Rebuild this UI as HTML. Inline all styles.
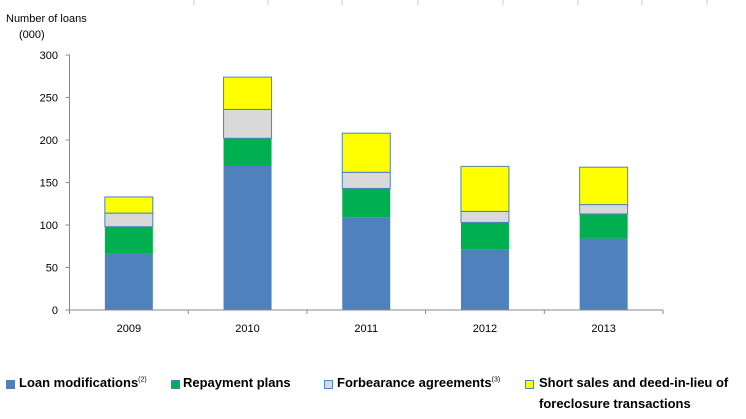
<!DOCTYPE html>
<html><head><meta charset="utf-8"><style>
body{margin:0;background:#fff;width:746px;height:419px;overflow:hidden;font-family:"Liberation Sans",sans-serif}
svg{position:absolute;left:0;top:0}
.lg{position:absolute;font-size:13px;font-weight:bold;color:#000;white-space:nowrap}
.sw{position:absolute;width:9px;height:9px;border:1px solid #4f81bd;box-sizing:border-box}
sup{font-size:7px;font-weight:normal}
</style></head><body>
<svg id="chart" width="746" height="419" font-family="Liberation Sans, sans-serif"></svg>
<div class="sw" style="left:6px;top:380px;background:#4f81bd"></div>
<div class="lg" style="left:19px;top:375px">Loan modifications<sup>(2)</sup></div>
<div class="sw" style="left:171px;top:380px;background:#00b050"></div>
<div class="lg" style="left:183px;top:375px">Repayment plans</div>
<div class="sw" style="left:324px;top:380px;background:#d9d9d9"></div>
<div class="lg" style="left:337px;top:375px">Forbearance agreements<sup>(3)</sup></div>
<div class="sw" style="left:525px;top:380px;background:#ffff00"></div>
<div class="lg" style="left:539px;top:372px;line-height:21px">Short sales and deed-in-lieu of<br>foreclosure transactions</div>
<script>
const categories=["2009","2010","2011","2012","2013"];
const loanMods=[66,170,109,71,84];
const repayment=[32,32,34,32,29];
const forbearance=[16,34,19,13,11];
const shortSales=[19,38,46,53,44];
const yTicks=[0,50,100,150,200,250,300];
const series=[["loan-modifications",loanMods,"#4f81bd"],["repayment-plans",repayment,"#00b050"],["forbearance-agreements",forbearance,"#d9d9d9"],["short-sales",shortSales,"#ffff00"]];
const svg=document.getElementById('chart');const NS="http://www.w3.org/2000/svg";
const x0=69.5,x1=663,yB=310,yT=55,ymax=300;
const y=v=>yB-(v/ymax)*(yB-yT);
const band=(x1-x0)/categories.length;
function mk(t,a){const e=document.createElementNS(NS,t);for(const k in a)e.setAttribute(k,a[k]);svg.appendChild(e);return e;}
[194,268,342,418,503,578,642,707].forEach(xx=>{const l=mk('line',{x1:xx,y1:0,x2:xx,y2:5,stroke:'#ccc'});

});
let t=mk('text',{x:6,y:22,'font-size':11});t.textContent='Number of loans';


t=mk('text',{x:19,y:38,'font-size':11});t.textContent='(000)';


yTicks.forEach(v=>{const l=mk('line',{x1:x0-4,y1:y(v),x2:x0,y2:y(v),stroke:'#888'});


const tx=mk('text',{x:58,y:y(v)+4,'font-size':11,'text-anchor':'end'});tx.textContent=v;

});
categories.forEach((c,i)=>{const bx=x0+band*i+(band-48)/2;let acc=0;
series.forEach(([nm,arr,col])=>{const v=arr[i];const r=mk('rect',{x:bx,y:y(acc+v),width:48,height:y(acc)-y(acc+v),fill:col,stroke:nm==='loan-modifications'||nm==='repayment-plans'?'none':'#4f81bd','stroke-width':1});

acc+=v;});
const tx=mk('text',{x:x0+band*(i+.5),y:332,'font-size':11,'text-anchor':'middle'});tx.textContent=c;

});
for(let i=0;i<=categories.length;i++){const xx=x0+band*i;const l=mk('line',{x1:xx,y1:yB,x2:xx,y2:yB+4,stroke:'#888'});

}
let a=mk('line',{x1:x0,y1:yT,x2:x0,y2:yB,stroke:'#888'});


a=mk('line',{x1:x0,y1:yB,x2:x1,y2:yB,stroke:'#888'});


</script>
</body></html>
